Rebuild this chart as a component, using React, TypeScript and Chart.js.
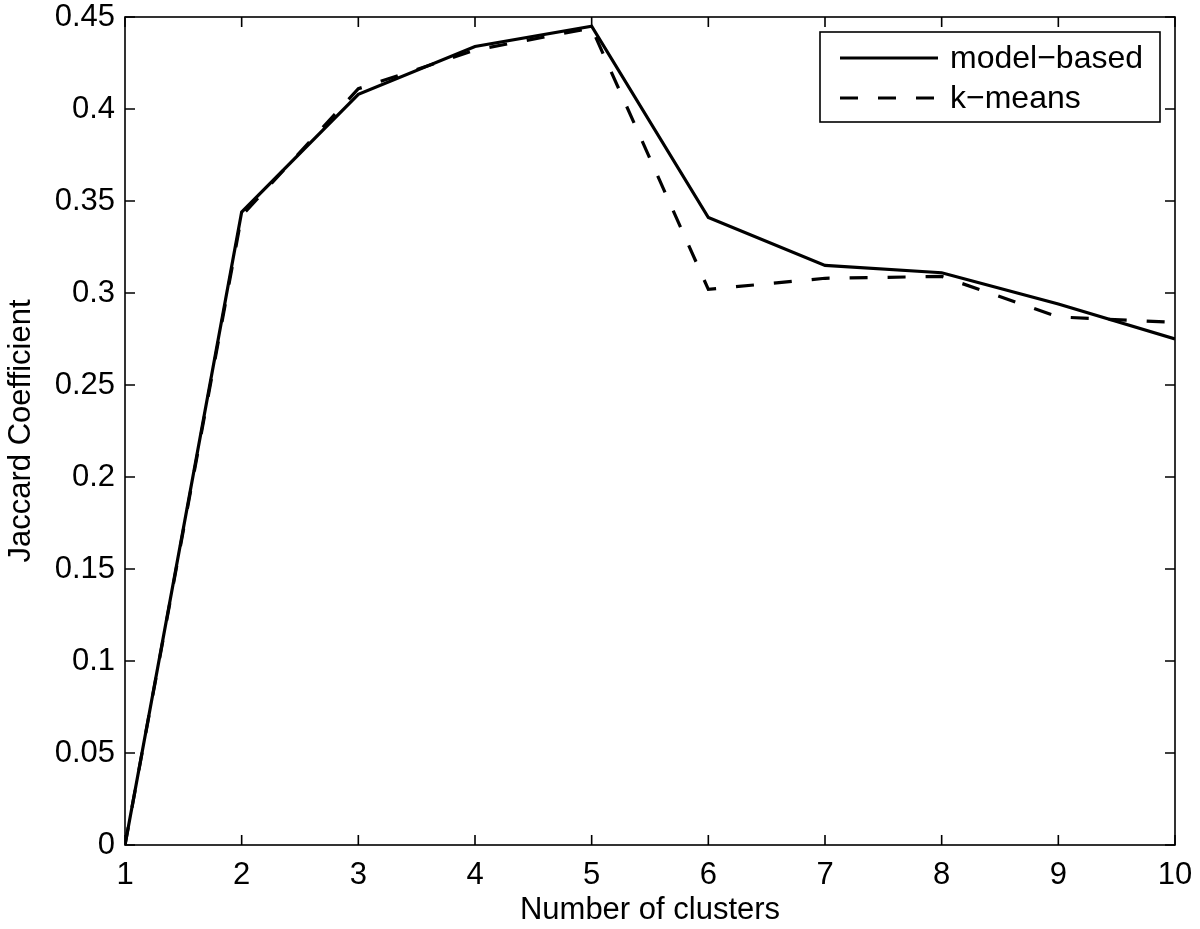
import React, { useEffect, useRef } from "react";
import { Chart, registerables } from "chart.js";

Chart.register(...registerables);

const clusters = [1, 2, 3, 4, 5, 6, 7, 8, 9, 10];
const modelBased = [0, 0.344, 0.408, 0.434, 0.445, 0.341, 0.315, 0.311, 0.294, 0.275];
const kMeans = [0, 0.342, 0.411, 0.432, 0.444, 0.302, 0.308, 0.309, 0.287, 0.284];
const seriesLabels = ["model\u2212based", "k\u2212means"];
const xTickValues = [1, 2, 3, 4, 5, 6, 7, 8, 9, 10];
const yTickValues = [0, 0.05, 0.1, 0.15, 0.2, 0.25, 0.3, 0.35, 0.4, 0.45];

const FONT = "'Liberation Sans', Arial, Helvetica, sans-serif";

const boxPlugin = {
  id: "matlabBox",
  afterDatasetsDraw(chart: any) {
    const { ctx, chartArea } = chart;
    const { left, right, top, bottom } = chartArea;
    const xs = chart.scales.x;
    const ys = chart.scales.y;
    ctx.save();
    ctx.strokeStyle = "#000";
    ctx.lineWidth = 1.6;
    ctx.strokeRect(left, top, right - left, bottom - top);
    const tl = 10;
    ctx.beginPath();
    xTickValues.forEach((v) => {
      const px = xs.getPixelForValue(v);
      ctx.moveTo(px, bottom);
      ctx.lineTo(px, bottom - tl);
      ctx.moveTo(px, top);
      ctx.lineTo(px, top + tl);
    });
    yTickValues.forEach((v) => {
      const py = ys.getPixelForValue(v);
      ctx.moveTo(left, py);
      ctx.lineTo(left + tl, py);
      ctx.moveTo(right, py);
      ctx.lineTo(right - tl, py);
    });
    ctx.stroke();

    // legend
    const bx1 = right - 355;
    const bx2 = right - 15;
    const by1 = top + 15;
    const by2 = top + 105;
    ctx.fillStyle = "#fff";
    ctx.fillRect(bx1, by1, bx2 - bx1, by2 - by1);
    ctx.lineWidth = 1.6;
    ctx.strokeRect(bx1, by1, bx2 - bx1, by2 - by1);
    const rows = [by1 + 26, by1 + 66];
    chart.data.datasets.forEach((ds: any, i: number) => {
      const y = rows[i];
      ctx.beginPath();
      ctx.setLineDash(ds.borderDash || []);
      ctx.lineWidth = ds.borderWidth;
      ctx.strokeStyle = ds.borderColor;
      ctx.moveTo(bx1 + 20, y);
      ctx.lineTo(bx1 + 118, y);
      ctx.stroke();
      ctx.setLineDash([]);
      ctx.fillStyle = "#000";
      ctx.font = `32px ${FONT}`;
      ctx.textAlign = "left";
      ctx.textBaseline = "middle";
      ctx.fillText(ds.label, bx1 + 130, y + 1);
    });
    ctx.restore();
  },
};

export default function App() {
  const ref = useRef<HTMLCanvasElement | null>(null);
  useEffect(() => {
    if (!ref.current) return;
    const chart = new Chart(ref.current, {
      type: "line",
      data: {
        datasets: [
          {
            label: seriesLabels[0],
            data: clusters.map((c, i) => ({ x: c, y: modelBased[i] })),
            borderColor: "#000",
            borderWidth: 3.2,
            pointRadius: 0,
            fill: false,
            tension: 0,
          },
          {
            label: seriesLabels[1],
            data: clusters.map((c, i) => ({ x: c, y: kMeans[i] })),
            borderColor: "#000",
            borderWidth: 3.2,
            borderDash: [18, 20],
            pointRadius: 0,
            fill: false,
            tension: 0,
          },
        ],
      },
      options: {
        responsive: false,
        animation: false,
        events: [],
        layout: { padding: { top: 17, right: 25, left: 0, bottom: 0 } },
        plugins: {
          legend: { display: false },
          tooltip: { enabled: false },
        },
        scales: {
          x: {
            type: "linear",
            min: 1,
            max: 10,
            afterBuildTicks: (s: any) => {
              s.ticks = xTickValues.map((v) => ({ value: v }));
            },
            afterFit: (s: any) => {
              s.height = 84;
              s.paddingLeft = 0;
              s.paddingRight = 0;
            },
            grid: { display: false, drawTicks: false },
            border: { display: false },
            ticks: {
              color: "#000",
              font: { family: FONT, size: 31 },
              padding: 12,
              maxRotation: 0,
              autoSkip: false,
              callback: (v: any) => String(v),
            },
            title: {
              display: true,
              text: "Number of clusters",
              color: "#000",
              font: { family: FONT, size: 31 },
              padding: 0,
            },
          },
          y: {
            type: "linear",
            min: 0,
            max: 0.45,
            afterBuildTicks: (s: any) => {
              s.ticks = yTickValues.map((v) => ({ value: v }));
            },
            afterFit: (s: any) => {
              s.width = 125;
              s.paddingTop = 0;
              s.paddingBottom = 0;
            },
            grid: { display: false, drawTicks: false },
            border: { display: false },
            ticks: {
              color: "#000",
              font: { family: FONT, size: 31 },
              padding: 10,
              autoSkip: false,
              callback: (v: any) => {
                const n = Math.round(v * 100) / 100;
                return String(n);
              },
            },
            title: {
              display: true,
              text: "Jaccard Coefficient",
              color: "#000",
              font: { family: FONT, size: 31 },
              padding: { top: 3, bottom: 0 },
            },
          },
        },
      },
      plugins: [boxPlugin],
    });
    return () => chart.destroy();
  }, []);
  return (
    <div
      style={{
        position: "fixed",
        left: 0,
        top: 0,
        width: 1200,
        height: 929,
        background: "#fff",
      }}
    >
      <canvas ref={ref} width={1200} height={929} style={{ width: 1200, height: 929, display: "block" }} />
    </div>
  );
}
